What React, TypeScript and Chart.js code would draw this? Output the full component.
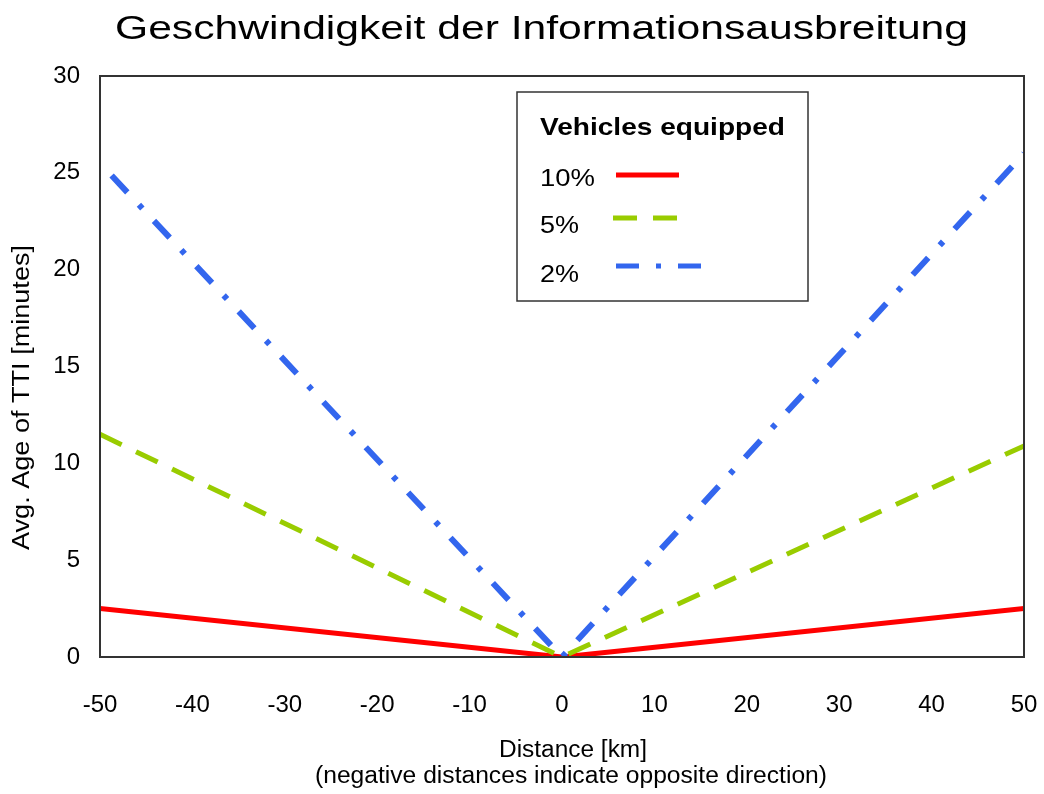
import React, { useEffect, useRef } from 'react';
import { Chart, registerables } from 'chart.js';

Chart.register(...registerables);

const titleText = 'Geschwindigkeit der Informationsausbreitung';
const yAxisTitle = 'Avg. Age of TTI [minutes]';
const xAxisTitle = 'Distance [km]';
const xAxisSubtitle = '(negative distances indicate opposite direction)';
const legendTitle = 'Vehicles equipped';

const distances = [-50, 0, 50];
const series10 = [2.5, 0, 2.5];
const series5 = [11.5, 0, 10.9];
const series2 = [25.5, 0, 26.0];
const seriesLabels = ['10%', '5%', '2%'];
const seriesColors = ['#ff0000', '#99cc00', '#3366ee'];
const seriesDashes: number[][] = [[], [24, 16], [23, 17, 5, 17]];

const xTicks = [-50, -40, -30, -20, -10, 0, 10, 20, 30, 40, 50];
const yTicks = [0, 5, 10, 15, 20, 25, 30];

const FONT = '"Liberation Sans", Arial, Helvetica, sans-serif';

function drawFitted(
  ctx: CanvasRenderingContext2D,
  text: string,
  x: number,
  y: number,
  font: string,
  align: CanvasTextAlign,
  targetWidth?: number,
  rotate?: number
) {
  ctx.save();
  ctx.font = font;
  ctx.fillStyle = '#000';
  ctx.textBaseline = 'alphabetic';
  ctx.textAlign = align;
  const w = ctx.measureText(text).width;
  const sx = targetWidth ? targetWidth / w : 1;
  ctx.translate(x, y);
  if (rotate) ctx.rotate(rotate);
  ctx.scale(sx, 1);
  ctx.fillText(text, 0, 0);
  ctx.restore();
}

const decorPlugin = {
  id: 'decor',
  afterDraw(chart: any) {
    const ctx: CanvasRenderingContext2D = chart.ctx;
    const a = chart.chartArea;
    ctx.save();
    ctx.strokeStyle = '#333';
    ctx.lineWidth = 2;
    ctx.strokeRect(a.left, a.top, a.right - a.left, a.bottom - a.top);
    ctx.restore();

    drawFitted(ctx, titleText, 541.5, 39, `34px ${FONT}`, 'center', 853);
    drawFitted(ctx, yAxisTitle, 29, 397.5, `23px ${FONT}`, 'center', 305, -Math.PI / 2);
    drawFitted(ctx, xAxisTitle, 573, 757, `23px ${FONT}`, 'center', 148);
    drawFitted(ctx, xAxisSubtitle, 571, 783, `23px ${FONT}`, 'center', 512);

    ctx.save();
    ctx.fillStyle = '#fff';
    ctx.fillRect(517, 92, 291, 209);
    ctx.strokeStyle = '#333';
    ctx.lineWidth = 1.5;
    ctx.strokeRect(517, 92, 291, 209);
    ctx.restore();

    drawFitted(ctx, legendTitle, 540, 135, `bold 24px ${FONT}`, 'left', 245);
    const baselines = [186, 233, 282];
    const lineYs = [175, 218, 266];
    const labelWidths = [55, 39, 39];
    seriesLabels.forEach((lab, i) => {
      drawFitted(ctx, lab, 540, baselines[i], `24px ${FONT}`, 'left', labelWidths[i]);
      ctx.save();
      ctx.strokeStyle = seriesColors[i];
      ctx.lineWidth = 5;
      ctx.lineCap = 'butt';
      ctx.setLineDash(seriesDashes[i]);
      ctx.beginPath();
      const x0 = i === 1 ? 613 : 616;
      const x1 = i === 2 ? 703 : i === 1 ? 677 : 679;
      ctx.moveTo(x0, lineYs[i]);
      ctx.lineTo(x1, lineYs[i]);
      ctx.stroke();
      ctx.restore();
    });
  },
};

export default function App() {
  const ref = useRef<HTMLCanvasElement | null>(null);

  useEffect(() => {
    if (!ref.current) return;
    Chart.defaults.font.family = FONT;
    Chart.defaults.color = '#000';
    const mk = (vals: number[]) => distances.map((x, i) => ({ x, y: vals[i] }));
    const chart = new Chart(ref.current, {
      type: 'line',
      data: {
        datasets: [
          {
            label: seriesLabels[0],
            data: mk(series10),
            borderColor: seriesColors[0],
            borderWidth: 5,
            borderCapStyle: 'butt',
            order: 3,
          },
          {
            label: seriesLabels[1],
            data: mk(series5),
            borderColor: seriesColors[1],
            borderWidth: 5,
            borderDash: seriesDashes[1],
            borderCapStyle: 'butt',
            order: 2,
          },
          {
            label: seriesLabels[2],
            data: mk(series2),
            borderColor: seriesColors[2],
            borderWidth: 6,
            borderDash: seriesDashes[2],
            borderDashOffset: 45,
            borderCapStyle: 'butt',
            order: 1,
          },
        ],
      },
      options: {
        animation: false,
        responsive: false,
        devicePixelRatio: 1,
        layout: { padding: { top: 76, right: 20, left: 0, bottom: 0 } },
        plugins: {
          legend: { display: false },
          title: { display: false },
          tooltip: { enabled: false },
        },
        elements: { point: { radius: 0 }, line: { tension: 0, fill: false } },
        scales: {
          x: {
            type: 'linear',
            min: -50,
            max: 50,
            afterBuildTicks: (s: any) => {
              s.ticks = xTicks.map((v) => ({ value: v }));
            },
            grid: { display: false, drawTicks: false },
            border: { display: false },
            ticks: {
              font: { size: 24 },
              color: '#000',
              padding: 34,
              maxRotation: 0,
              autoSkip: false,
            },
            afterFit: (s: any) => {
              s.height = 137;
              s.paddingLeft = 0;
              s.paddingRight = 0;
            },
          },
          y: {
            type: 'linear',
            min: 0,
            max: 30,
            afterBuildTicks: (s: any) => {
              s.ticks = yTicks.map((v) => ({ value: v }));
            },
            grid: { display: false, drawTicks: false },
            border: { display: false },
            ticks: { font: { size: 24 }, color: '#000', padding: 20 },
            afterFit: (s: any) => {
              s.width = 100;
              s.paddingTop = 0;
              s.paddingBottom = 0;
            },
          },
        },
      },
      plugins: [decorPlugin],
    });
    return () => chart.destroy();
  }, []);

  return (
    <div style={{ position: 'fixed', left: 0, top: 0, width: 1044, height: 794, background: '#fff' }}>
      <canvas ref={ref} width={1044} height={794} style={{ width: 1044, height: 794, display: 'block' }} />
    </div>
  );
}
